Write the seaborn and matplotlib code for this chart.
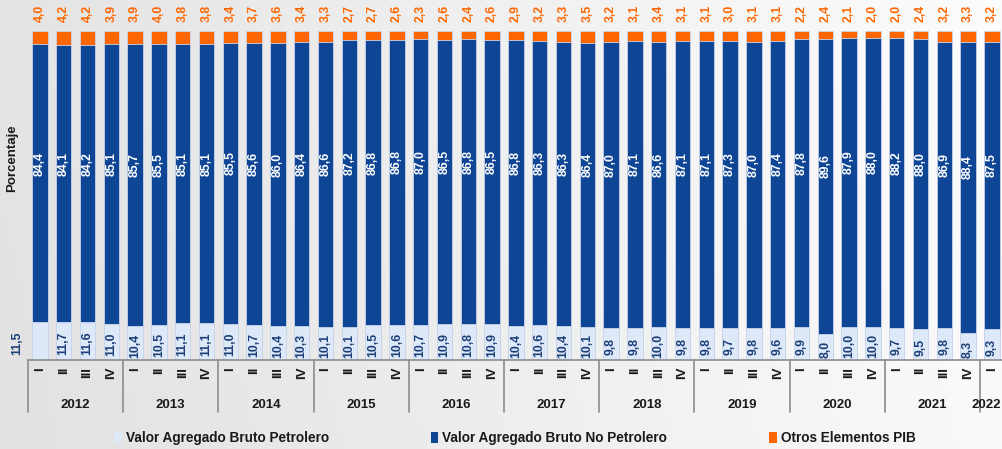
import numpy as np
import pandas as pd
import matplotlib
matplotlib.use("Agg")
import matplotlib.pyplot as plt
import matplotlib.transforms as mtransforms
from matplotlib.patches import Patch
import seaborn as sns
from matplotlib import font_manager

years = ["2012", "2013", "2014", "2015", "2016", "2017", "2018", "2019", "2020", "2021", "2022"]
quarters = ["I", "II", "III", "IV"]

petrolero = [11.5, 11.7, 11.6, 11.0, 10.4, 10.5, 11.1, 11.1, 11.0, 10.7, 10.4, 10.3,
             10.1, 10.1, 10.5, 10.6, 10.7, 10.9, 10.8, 10.9, 10.4, 10.6, 10.4, 10.1,
             9.8, 9.8, 10.0, 9.8, 9.8, 9.7, 9.8, 9.6, 9.9, 8.0, 10.0, 10.0,
             9.7, 9.5, 9.8, 8.3, 9.3]
no_petrolero = [84.4, 84.1, 84.2, 85.1, 85.7, 85.5, 85.1, 85.1, 85.5, 85.6, 86.0, 86.4,
                86.6, 87.2, 86.8, 86.8, 87.0, 86.5, 86.8, 86.5, 86.8, 86.3, 86.3, 86.4,
                87.0, 87.1, 86.6, 87.1, 87.1, 87.3, 87.0, 87.4, 87.8, 89.6, 87.9, 88.0,
                88.2, 88.0, 86.9, 88.4, 87.5]
otros = [4.0, 4.2, 4.2, 3.9, 3.9, 4.0, 3.8, 3.8, 3.4, 3.7, 3.6, 3.4,
         3.3, 2.7, 2.7, 2.6, 2.3, 2.6, 2.4, 2.6, 2.9, 3.2, 3.3, 3.5,
         3.2, 3.1, 3.4, 3.1, 3.1, 3.0, 3.1, 3.1, 2.2, 2.4, 2.1, 2.0,
         2.0, 2.4, 3.2, 3.3, 3.2]

series_names = ["Valor Agregado Bruto Petrolero", "Valor Agregado Bruto No Petrolero", "Otros Elementos PIB"]

period_year = []
period_q = []
for y in years:
    for q in quarters:
        period_year.append(y)
        period_q.append(q)
n = len(petrolero)
period_year = period_year[:n]
period_q = period_q[:n]
periods = [f"{y}-{q}" for y, q in zip(period_year, period_q)]

df = pd.DataFrame({"periodo": periods, "pet": petrolero, "npet": no_petrolero, "otros": otros})
df["cum2"] = df["pet"] + df["npet"]
df["cum3"] = df["cum2"] + df["otros"]

avail = {f.name for f in font_manager.fontManager.ttflist}
fam = "Liberation Sans Narrow" if "Liberation Sans Narrow" in avail else "Liberation Sans"

C_LIGHT = "#dde8f8"
C_DARK = "#0e4595"
C_ORANGE = "#ff6600"
C_PETLAB = "#1c3f78"

sns.set_theme(style="white")
plt.rcParams["font.family"] = [fam, "DejaVu Sans"]

W, H = 1002, 449
fig = plt.figure(figsize=(W / 100, H / 100), dpi=100)

bg = fig.add_axes([0, 0, 1, 1], zorder=-10)
grad = np.linspace(0, 1, 256)
gx = np.tile(grad, (64, 1))
gy = np.tile(np.linspace(0, 1, 64)[:, None], (1, 256))
g = 0.885 + 0.095 * gx + 0.01 * gy
bg.imshow(np.dstack([g, g, g]), aspect="auto", extent=[0, 1, 0, 1], origin="lower")
bg.set_axis_off()

slot = 23.8
left_px = 28
ax_bottom_px = 360
ax = fig.add_axes([left_px / W, (H - ax_bottom_px) / H, n * slot / W, ax_bottom_px / H])
ax.patch.set_alpha(0)

bar_w = 0.64
edge = "#c9d6ea"
sns.barplot(data=df, x="periodo", y="cum3", order=periods, color=C_ORANGE, width=bar_w,
            saturation=1, edgecolor=edge, linewidth=0.6, ax=ax)
sns.barplot(data=df, x="periodo", y="cum2", order=periods, color=C_DARK, width=bar_w,
            saturation=1, edgecolor=edge, linewidth=0.6, ax=ax)
sns.barplot(data=df, x="periodo", y="pet", order=periods, color=C_LIGHT, width=bar_w,
            saturation=1, edgecolor=edge, linewidth=0.6, ax=ax)

ymax = ax_bottom_px / 3.29
ax.set_ylim(0, ymax)
ax.set_xlim(-0.5, n - 0.5)

def fmt(v):
    return f"{v:.1f}".replace(".", ",")

lab_fs = 8.8
for i in range(n):
    p, npv, o = df.loc[i, "pet"], df.loc[i, "npet"], df.loc[i, "otros"]
    xp = i - 0.97 if i == 0 else i
    ax.text(xp, p / 2 - 0.8, fmt(p), rotation=90, ha="center", va="center",
            color=C_PETLAB, fontsize=lab_fs, fontweight="bold")
    ax.text(i, p + npv * 0.57, fmt(npv), rotation=90, ha="center", va="center",
            color="white", fontsize=lab_fs, fontweight="bold")
    ax.text(i, 105.3, fmt(o), rotation=90, ha="center", va="center",
            color=C_ORANGE, fontsize=lab_fs, fontweight="bold")

for s in ["top", "right", "left"]:
    ax.spines[s].set_visible(False)
ax.spines["bottom"].set_color("#8c8c8c")
ax.spines["bottom"].set_linewidth(1.2)
ax.set_yticks([])
ax.set_xlabel("")
ax.set_ylabel("")
ax.set_xticks(range(n))
ax.set_xticklabels(period_q, rotation=90, fontsize=9.5, fontweight="bold", color="#1a1a1a")
ax.tick_params(axis="x", length=0, pad=5)

trans = mtransforms.blended_transform_factory(ax.transData, ax.transAxes)
px = 1.0 / ax_bottom_px
for k in range(0, n + 1, 4):
    xb = k - 0.5
    ax.plot([xb, xb], [0, -52 * px], transform=trans, color="#8c8c8c", lw=1.2, clip_on=False)
for k, y in enumerate(years):
    idx = [i for i in range(n) if period_year[i] == y]
    if not idx:
        continue
    xc = (idx[0] + idx[-1]) / 2
    if len(idx) < 4:
        ax.text(xc + 0.4, -45 * px, y, transform=trans, ha="right", va="center",
                fontsize=9.5, fontweight="bold", color="#1a1a1a", clip_on=False)
    else:
        ax.text(xc, -45 * px, y, transform=trans, ha="center", va="center",
                fontsize=9.5, fontweight="bold", color="#1a1a1a", clip_on=False)

fig.text(12 / W, 1 - 158 / H, "Porcentaje", rotation=90, ha="center", va="center",
         fontsize=9.5, fontweight="bold", color="#1a1a1a")

handles = [Patch(facecolor=C_LIGHT, edgecolor="none"),
           Patch(facecolor=C_DARK, edgecolor="none"),
           Patch(facecolor=C_ORANGE, edgecolor="none")]
leg = fig.legend(handles, series_names, loc="center", bbox_to_anchor=(515 / W, 1 - 438 / H),
                 ncol=3, frameon=False, handlelength=0.55, handleheight=0.9, handletextpad=0.3,
                 columnspacing=7.5, prop={"family": [fam, "DejaVu Sans"], "weight": "bold", "size": 9.8})
for t in leg.get_texts():
    t.set_color("#1a1a1a")

fig.savefig("out.png", dpi=100)
